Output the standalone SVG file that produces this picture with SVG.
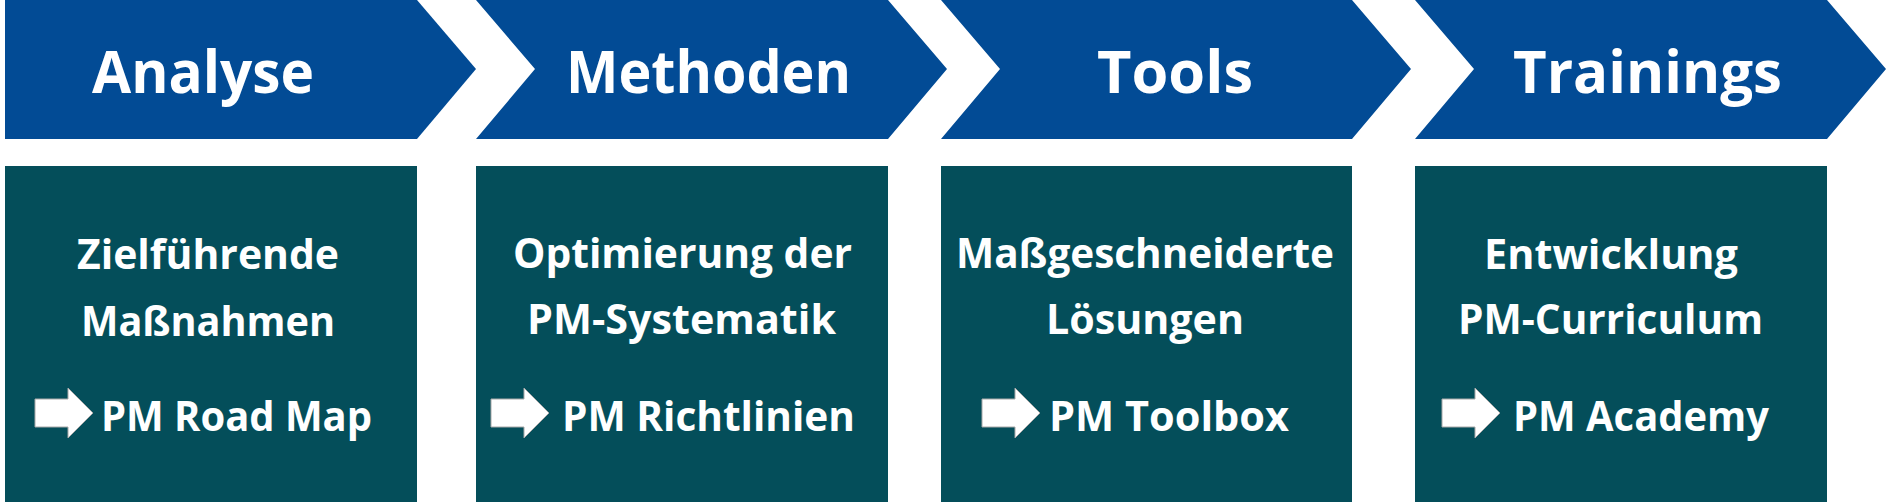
<svg xmlns="http://www.w3.org/2000/svg" xmlns:xlink="http://www.w3.org/1999/xlink" width="1886" height="502" viewBox="0 0 1886 502">
<style>
.chev{fill:#024B95}
.box{fill:#044E5A}
.h{font-family:"Open Sans","Liberation Sans",sans-serif;font-weight:700;font-size:59px;fill:#ffffff}
.t{font-family:"Open Sans","Liberation Sans",sans-serif;font-weight:700;font-size:42px;fill:#ffffff}
.arr{fill:#ffffff;stroke:#a8a8a8;stroke-width:1}
</style>
<defs>
<path id="arrow" class="arr" d="M0,11 H33 V0 L58,25 L33,50 V39 H0 Z"/>
</defs>
<rect width="1886" height="502" fill="#ffffff"/>
<g id="connectors"></g>
<g id="step-analyse">
<polygon class="chev" points="5,0 417,0 476,69 417,139 5,139"/>
<text class="h" x="92" y="93" textLength="222" lengthAdjust="spacingAndGlyphs">Analyse</text>
</g>
<g id="step-methoden">
<polygon class="chev" points="476,0 888,0 947,69 888,139 476,139 535,69"/>
<text class="h" x="566" y="93" textLength="285" lengthAdjust="spacingAndGlyphs">Methoden</text>
</g>
<g id="step-tools">
<polygon class="chev" points="941,0 1352,0 1411,69 1352,139 941,139 1000,69"/>
<text class="h" x="1097" y="93" textLength="156" lengthAdjust="spacingAndGlyphs">Tools</text>
</g>
<g id="step-trainings">
<polygon class="chev" points="1415,0 1827,0 1886,69 1827,139 1415,139 1474,69"/>
<text class="h" x="1513" y="93" textLength="269" lengthAdjust="spacingAndGlyphs">Trainings</text>
</g>
<g id="box-analyse">
<rect class="box" x="5" y="166" width="412" height="336"/>
<text class="t" x="77" y="269" textLength="262" lengthAdjust="spacingAndGlyphs">Zielführende</text>
<text class="t" x="81" y="336" textLength="254" lengthAdjust="spacingAndGlyphs">Maßnahmen</text>
<use xlink:href="#arrow" x="35" y="388"/>
<text class="t" x="101" y="431" textLength="271" lengthAdjust="spacingAndGlyphs">PM Road Map</text>
</g>
<g id="box-methoden">
<rect class="box" x="476" y="166" width="412" height="336"/>
<text class="t" x="513" y="268" textLength="339" lengthAdjust="spacingAndGlyphs">Optimierung der</text>
<text class="t" x="527" y="334" textLength="309" lengthAdjust="spacingAndGlyphs">PM-Systematik</text>
<use xlink:href="#arrow" x="491" y="388"/>
<text class="t" x="562" y="431" textLength="293" lengthAdjust="spacingAndGlyphs">PM Richtlinien</text>
</g>
<g id="box-tools">
<rect class="box" x="941" y="166" width="411" height="336"/>
<text class="t" x="956" y="268" textLength="378" lengthAdjust="spacingAndGlyphs">Maßgeschneiderte</text>
<text class="t" x="1046" y="334" textLength="198" lengthAdjust="spacingAndGlyphs">Lösungen</text>
<use xlink:href="#arrow" x="982" y="388"/>
<text class="t" x="1049" y="431" textLength="240" lengthAdjust="spacingAndGlyphs">PM Toolbox</text>
</g>
<g id="box-trainings">
<rect class="box" x="1415" y="166" width="412" height="336"/>
<text class="t" x="1484" y="269" textLength="254" lengthAdjust="spacingAndGlyphs">Entwicklung</text>
<text class="t" x="1458" y="334" textLength="305" lengthAdjust="spacingAndGlyphs">PM-Curriculum</text>
<use xlink:href="#arrow" x="1442" y="388"/>
<text class="t" x="1513" y="431" textLength="256" lengthAdjust="spacingAndGlyphs">PM Academy</text>
</g>
</svg>
